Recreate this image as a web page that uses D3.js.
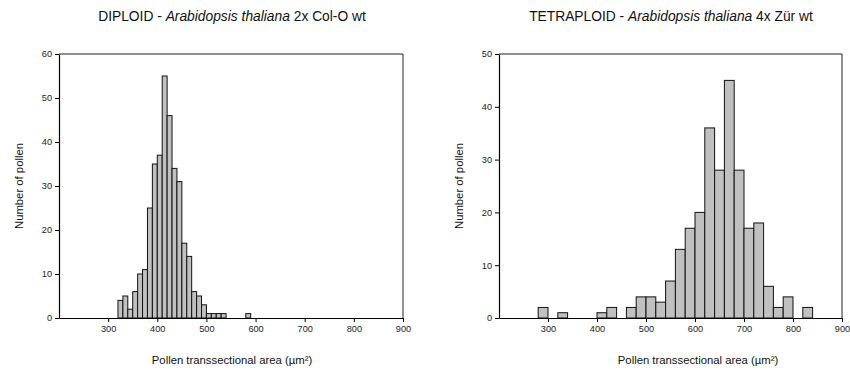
<!DOCTYPE html>
<html>
<head>
<meta charset="utf-8">
<script src="https://cdn.jsdelivr.net/npm/d3@7"></script>
<style>
  body { margin: 0; background: #fff; }
  svg { display: block; font-family: "Liberation Sans", Arial, sans-serif; }
</style>
</head>
<body>
<div id="chart"></div>
<script>
// diploid histogram: bin starts (µm²) and counts, bin width 10
const diploidBins = [320, 330, 340, 350, 360, 370, 380, 390, 400, 410, 420, 430, 440, 450, 460, 470, 480, 490, 500, 510, 520, 530, 540, 550, 560, 570, 580];
const diploidCounts = [4, 5, 2, 6, 10, 11, 25, 35, 37, 55, 46, 34, 31, 17, 14, 6, 5, 3, 1, 1, 1, 1, 0, 0, 0, 0, 1];

// tetraploid histogram: bin starts and counts, bin width 20
const tetraBins = [280, 300, 320, 340, 360, 380, 400, 420, 440, 460, 480, 500, 520, 540, 560, 580, 600, 620, 640, 660, 680, 700, 720, 740, 760, 780, 800, 820];
const tetraCounts = [2, 0, 1, 0, 0, 0, 1, 2, 0, 2, 4, 4, 3, 7, 13, 17, 20, 36, 28, 45, 28, 17, 18, 6, 2, 4, 0, 2];

const xTicks = [300, 400, 500, 600, 700, 800, 900];
const diploidYTicks = [0, 10, 20, 30, 40, 50, 60];
const tetraYTicks = [0, 10, 20, 30, 40, 50];

const width = 850, height = 371;

const svg = d3.select("#chart").append("svg")
    .attr("width", width)
    .attr("height", height);

function drawPanel(opts) {
    const x = d3.scaleLinear().domain([200, 900]).range([opts.left, opts.right]);
    const y = d3.scaleLinear().domain([0, opts.yMax]).range([318, 54]);
    const g = svg.append("g");

    // bars
    g.append("g").selectAll("rect")
        .data(opts.bins.map((b, i) => ({ x0: b, x1: b + opts.binWidth, n: opts.counts[i] })).filter(d => d.n > 0))
        .join("rect")
        .attr("x", d => x(d.x0))
        .attr("y", d => y(d.n))
        .attr("width", d => x(d.x1) - x(d.x0))
        .attr("height", d => y(0) - y(d.n))
        .attr("fill", "#c0c0c0")
        .attr("stroke", "#111")
        .attr("stroke-width", 1);

    // frame (top and right)
    g.append("path")
        .attr("d", `M${opts.left},${y(opts.yMax)}H${opts.right}V${y(0)}`)
        .attr("fill", "none")
        .attr("stroke", "#222")
        .attr("stroke-width", 1);

    const xAxis = g.append("g")
        .attr("transform", `translate(0,${y(0)})`)
        .call(d3.axisBottom(x).tickValues(xTicks).tickSize(4).tickPadding(3).tickSizeOuter(0));
    const yAxis = g.append("g")
        .attr("transform", `translate(${opts.left},0)`)
        .call(d3.axisLeft(y).tickValues(opts.yTicks).tickSize(4).tickPadding(3).tickSizeOuter(0));

    [xAxis, yAxis].forEach(a => {
        a.select(".domain").attr("stroke", "#000").attr("stroke-width", 1.2);
        a.selectAll(".tick line").attr("stroke", "#000");
        a.selectAll("text").attr("font-size", 9.2).attr("fill", "#222")
            .attr("font-family", "'Liberation Sans', Arial, sans-serif");
    });

    g.append("text")
        .attr("transform", `translate(${opts.yLabelX},186) rotate(-90)`)
        .attr("text-anchor", "middle")
        .attr("font-size", 11.3)
        .attr("fill", "#111")
        .text("Number of pollen");

    g.append("text")
        .attr("x", opts.xLabelX)
        .attr("y", 364)
        .attr("text-anchor", "middle")
        .attr("font-size", 11.3)
        .attr("fill", "#111")
        .text("Pollen transsectional area (µm²)");

    const t = g.append("text")
        .attr("x", opts.titleX)
        .attr("y", 21)
        .attr("text-anchor", "middle")
        .attr("font-size", 13.8)
        .attr("fill", "#111");
    t.append("tspan").text(opts.title[0]);
    t.append("tspan").attr("font-style", "italic").text(opts.title[1]);
    t.append("tspan").text(opts.title[2]);
}

drawPanel({
    left: 59, right: 403, yMax: 60, yTicks: diploidYTicks,
    bins: diploidBins, counts: diploidCounts, binWidth: 10,
    yLabelX: 23, xLabelX: 232, titleX: 232,
    title: ["DIPLOID - ", "Arabidopsis thaliana", " 2x Col-O wt"]
});

drawPanel({
    left: 499, right: 842, yMax: 50, yTicks: tetraYTicks,
    bins: tetraBins, counts: tetraCounts, binWidth: 20,
    yLabelX: 463, xLabelX: 698, titleX: 671,
    title: ["TETRAPLOID - ", "Arabidopsis thaliana", " 4x Zür wt"]
});
</script>
</body>
</html>
